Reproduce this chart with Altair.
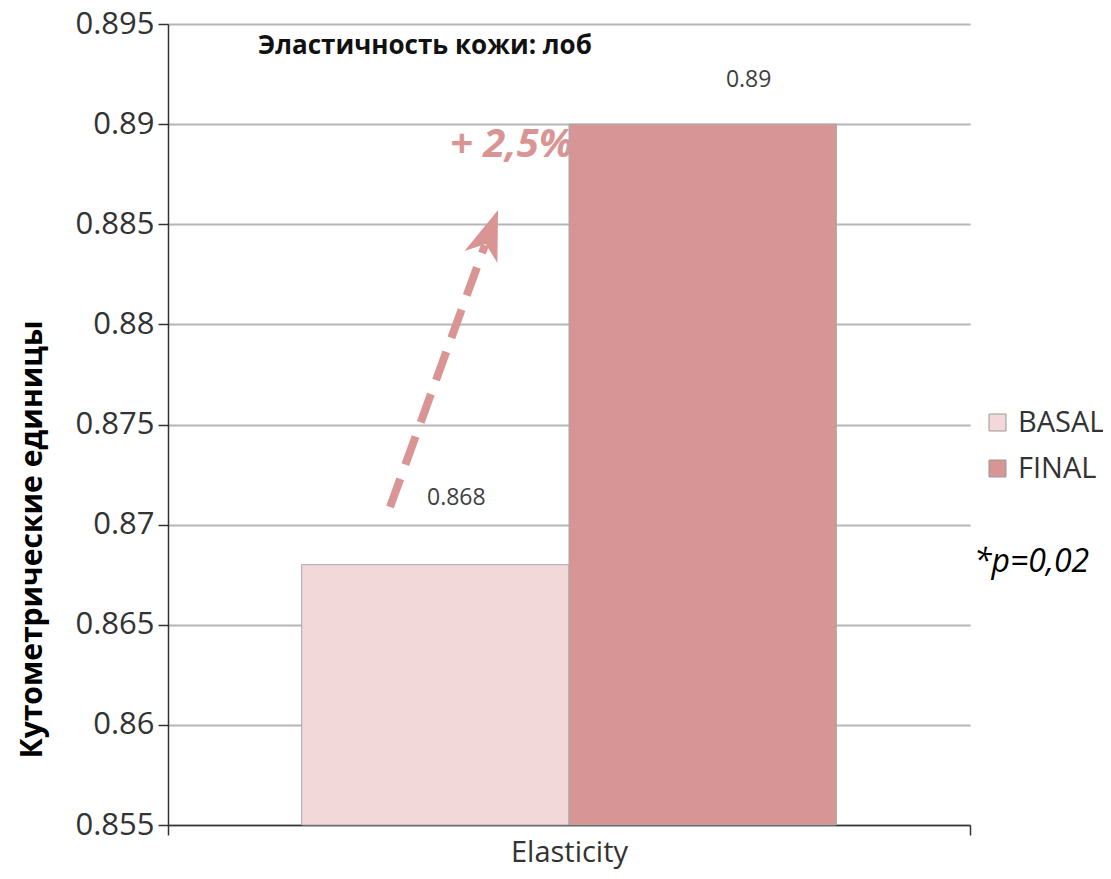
import altair as alt
import pandas as pd

# ---- data ----
categories = ["Elasticity", "Elasticity"]
series = ["BASAL", "FINAL"]
values = [0.868, 0.89]
y_ticks = [0.855, 0.86, 0.865, 0.87, 0.875, 0.88, 0.885, 0.89, 0.895]
y_domain = [0.855, 0.895]
colors = ["#f2d8d9", "#d79595"]
title_text = ["Эластичность кожи: лоб"]
y_title = "Кутометрические единицы"
change_text = ["+ 2,5%"]
p_text = ["*p=0,02"]
# arrow annotation (value space)
arrow_tail = 0.87088
arrow_end = 0.88396
arrow_head = 0.88454

df = pd.DataFrame({"cat": categories, "series": series, "value": values})

FONT = "Open Sans"
ACCENT = "#d99594"

x_enc = alt.X(
    "cat:N",
    title=None,
    scale=alt.Scale(paddingInner=0, paddingOuter=0),
    axis=alt.Axis(
        tickBand="extent", labelFontSize=29, labelColor="#333333", labelPadding=3,
        tickSize=10, tickColor="#333333", domainColor="#333333", domainWidth=1.5,
        tickWidth=1.5, labelAngle=0, grid=False,
    ),
)
xoff_enc = alt.XOffset("series:N", scale=alt.Scale(domain=series, paddingInner=0, paddingOuter=0.5))
y_enc = alt.Y(
    "value:Q",
    scale=alt.Scale(domain=y_domain, zero=False, nice=False),
    axis=alt.Axis(
        values=y_ticks, format="~g", labelFontSize=31, labelColor="#333333",
        tickSize=10, tickColor="#333333", tickWidth=1.5, labelPadding=4,
        domainColor="#333333", domainWidth=1.5,
        gridColor="#b5b5b5", gridWidth=2,
        title=y_title, titleFontSize=30, titleFontWeight="bold", titleColor="#000000",
        titleX=-136, titleY=515, titleAngle=270, titleAlign="center", titleBaseline="middle",
    ),
)

change = alt.Chart(pd.DataFrame({"t": change_text})).mark_text(
    font=FONT, fontSize=40, fontWeight="bold", fontStyle="italic", color=ACCENT,
    align="left", baseline="middle",
).encode(text="t:N", x=alt.value(282), y=alt.value(121))

bars = alt.Chart(df).mark_bar(stroke="#a8a8a8", strokeWidth=1).encode(
    x=x_enc,
    xOffset=xoff_enc,
    y=y_enc,
    y2=alt.Y2(datum=y_domain[0]),
    color=alt.Color(
        "series:N",
        scale=alt.Scale(domain=series, range=colors),
        legend=alt.Legend(
            title=None, orient="none", legendX=815, legendY=384,
            symbolType="square", symbolSize=289, symbolStrokeColor="#999999",
            symbolStrokeWidth=1, labelFontSize=29, labelColor="#333333",
            labelOffset=6, rowPadding=16, padding=0, labelFont=FONT,
        ),
    ),
)

lab_basal = alt.Chart(df).transform_filter(alt.datum.series == "BASAL").mark_text(
    font=FONT, fontSize=23, color="#404040", dx=21, dy=-67
).encode(x="cat:N", xOffset="series:N", y="value:Q", text=alt.Text("value:Q", format="~g"))

lab_final = alt.Chart(df).transform_filter(alt.datum.series == "FINAL").mark_text(
    font=FONT, fontSize=23, color="#404040", dx=46, dy=-44
).encode(x="cat:N", xOffset="series:N", y="value:Q", text=alt.Text("value:Q", format="~g"))

arrow_line = alt.Chart(pd.DataFrame({"a": [0]})).mark_rule(
    color=ACCENT, strokeWidth=8, strokeDash=[30, 15], strokeCap="butt"
).encode(
    x=alt.value(222), x2=alt.value(317),
    y=alt.datum(arrow_tail), y2=alt.datum(arrow_end),
)

arrow_tip = alt.Chart(pd.DataFrame({"a": [0]})).mark_point(
    shape="M0,-1L0.7,1L0,0.45L-0.7,1Z", size=2500, angle=20,
    filled=True, fill=ACCENT, opacity=1, strokeWidth=0,
).encode(x=alt.value(321.5), y=alt.datum(arrow_head))

title = alt.Chart(pd.DataFrame({"t": title_text})).mark_text(
    font=FONT, fontSize=26, fontWeight="bold", color="#111111", align="left", baseline="middle"
).encode(text="t:N", x=alt.value(90), y=alt.value(22))

pval = alt.Chart(pd.DataFrame({"t": p_text})).mark_text(
    font=FONT, fontSize=32, fontStyle="italic", color="#000000", align="left", baseline="middle"
).encode(text="t:N", x=alt.value(806), y=alt.value(538))

chart = alt.layer(
    change, bars, lab_basal, lab_final, arrow_line, arrow_tip, title, pval
).properties(
    width=802, height=801,
    autosize=alt.AutoSizeParams(type="none"),
    padding={"left": 160, "top": 16, "right": 133, "bottom": 46},
).configure(font=FONT).configure_view(stroke=None)

chart.save("out.html", embed_options={"renderer": "svg", "actions": False})
